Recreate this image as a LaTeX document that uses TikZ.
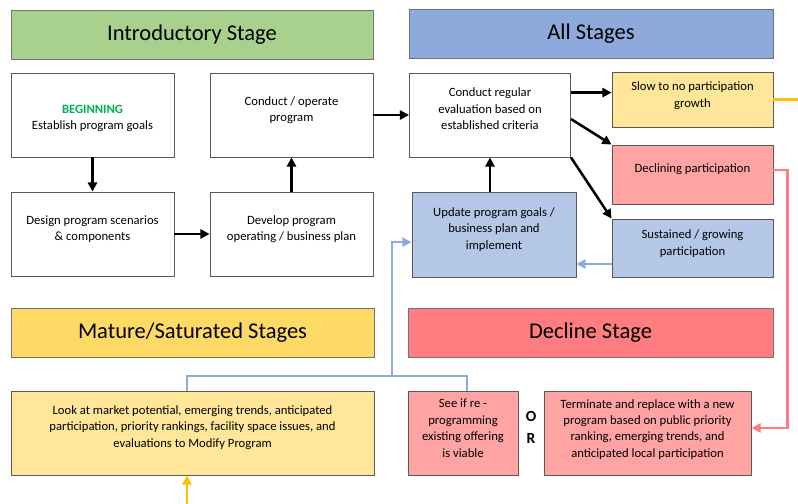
\documentclass[tikz,border=0pt]{standalone}
\usepackage{fontspec}
\setmainfont{Carlito}
\usepackage{xcolor}
\usetikzlibrary{arrows.meta}

\definecolor{introgreen}{HTML}{A9D18E}
\definecolor{allblue}{HTML}{8EA9DB}
\definecolor{matureyellow}{HTML}{FFD966}
\definecolor{declinered}{HTML}{FF7C80}
\definecolor{paleyellow}{HTML}{FFE699}
\definecolor{palered}{HTML}{FFA3A3}
\definecolor{paleblue}{HTML}{B4C7E7}
\definecolor{linkblue}{HTML}{8EA9DB}
\definecolor{linkpink}{HTML}{FF7C80}
\definecolor{linkorange}{HTML}{FFC000}
\definecolor{begingreen}{HTML}{00B050}

\begin{document}
\begin{tikzpicture}[x=0.025cm,y=-0.025cm,line width=1.8pt,
  >={Triangle[length=6.5pt,width=6.5pt]},
  stage/.style={draw=black!55,line width=0.6pt,font=\fontsize{16}{19}\selectfont,minimum height=1.225cm},
  box/.style={draw=black!65,line width=0.6pt,align=center,font=\fontsize{9}{11.7}\selectfont,minimum height=2.1cm},
  barr/.style={->,draw=linkblue,line width=1.8pt},
  bline/.style={-,draw=linkblue,line width=1.8pt}]

\useasboundingbox (0,0) rectangle (798,504);

% headers
\node[stage,fill=introgreen,minimum width=9.05cm] (intro) at (192,34.5) {Introductory Stage};
\node[stage,fill=allblue,minimum width=9.1cm] (allst) at (591,34) {All Stages};
\node[stage,fill=matureyellow,minimum width=9.075cm] (mature) at (192.5,332.5) {Mature/Saturated Stages};
\node[stage,fill=declinered,minimum width=9.125cm] (decline) at (590.5,332.5) {Decline Stage};

% 1
\node[box,minimum width=4.075cm] (beg) at (92.5,115) {{\bfseries\color{begingreen}BEGINNING}\\Establish program goals\\[-15pt]};
\node[box,minimum width=4.075cm] (oper) at (291.5,115) {Conduct / operate\\program\\[-3pt]};
\node[box,minimum width=4.075cm] (design) at (92.5,234) {Design program scenarios\\\& components\\[-3pt]};
\node[box,minimum width=4.075cm] (develop) at (291.5,234) {Develop program\\operating / business plan\\[-3pt]};

\draw[->] (beg) -- (design);
\draw[->] (design) -- (develop);
\draw[->] (develop) -- (oper);

% 2
\node[box,minimum width=4.025cm] (eval) at (490,115) {Conduct regular\\evaluation based on\\established criteria\\[-3pt]};
\node[box,fill=paleyellow,minimum width=4.025cm,minimum height=1.375cm] (slow) at (692.5,99.5) {Slow to no participation\\growth\\[-5pt]};
\node[box,fill=palered,minimum width=4.025cm,minimum height=1.475cm] (decl) at (692.5,174.5) {Declining participation\\[-3pt]};
\node[box,fill=paleblue,minimum width=4.025cm,minimum height=1.45cm] (sust) at (692.5,248) {Sustained / growing\\participation\\[-4pt]};
\node[box,fill=paleblue,minimum width=4.1cm,minimum height=2.125cm] (update) at (494,234.5) {Update program goals /\\business plan and\\implement\\[-3pt]};

\draw[->] (oper) -- (eval);
\draw[->] ([yshift=-0.5cm]eval.north east) -- ([yshift=-0.5cm]eval.north east -| slow.west);
\draw[->] ([yshift=-0.1cm]eval.east) -- (decl.north west);
\draw[->] (eval.south east) -- (sust.north west);
\draw[->] (eval.south |- update.north) -- (eval.south);
\draw[barr] ([yshift=-0.4cm]sust.west) -- ([yshift=-0.4cm]sust.west -| update.east);

% 3
\node[box,fill=paleyellow,minimum width=9.075cm] (look) at (192.5,433) {Look at market potential, emerging trends, anticipated\\participation, priority rankings, facility space issues, and\\evaluations to Modify Program\\[-2pt]};
\node[box,fill=palered,minimum width=2.75cm] (seeif) at (463,433) {See if re -\\programming\\existing offering\\is viable\\[-5pt]};
\node[font=\fontsize{11}{15.6}\selectfont\bfseries,align=center] (or) at (531,427) {O\\R};
\node[box,fill=palered,minimum width=5.175cm] (term) at (647.5,433) {Terminate and replace with a new\\program based on public priority\\ranking, emerging trends, and\\anticipated local participation\\[-5pt]};

\coordinate (jn) at (392,376);
\draw[barr] ([xshift=-0.14cm]look.north) |- (jn) |- ([yshift=-0.19cm]update.west);
\draw[bline] ([xshift=0.1cm]seeif.north) |- (jn);

\draw[->,draw=linkpink,line width=1.8pt] ([yshift=0.11cm]decl.east) -- ++(0.35cm,0) |- ([yshift=0.125cm]term.east);

\coordinate (oR) at (798,98);
\coordinate (oB) at (187,504);
\draw[-,draw=linkorange,line width=1.8pt] (slow.east) -- (slow.east -| oR);
\draw[->,draw=linkorange,line width=1.8pt] (oB) -- (oB |- look.south);

\end{tikzpicture}
\end{document}
